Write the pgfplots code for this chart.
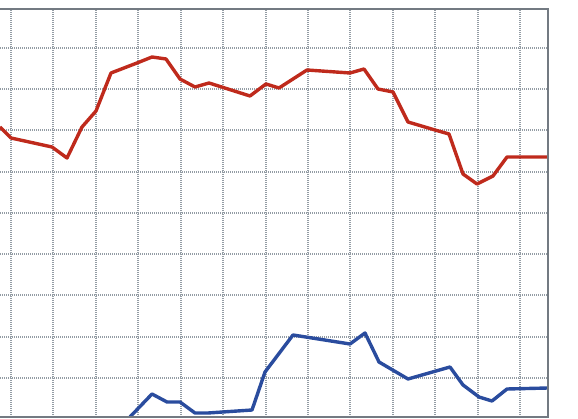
\documentclass[border=0pt]{standalone}
\usepackage{pgfplots}
\pgfplotsset{compat=1.18}
\definecolor{redline}{HTML}{BF2A1C}
\definecolor{blueline}{HTML}{2A4C9E}
\definecolor{gridc}{HTML}{939CA4}
\definecolor{borderc}{HTML}{737A82}
\begin{document}
\begin{tikzpicture}
\begin{axis}[
  name=ax,
  at={(0pt,2pt)}, anchor=south west,
  scale only axis,
  width=548pt, height=408pt,
  xmin=0, xmax=548, ymin=2, ymax=410,
  xtick={11,53.4,95.8,138.3,180.7,223.1,265.5,307.9,350.3,392.8,435.2,477.6,520},
  ytick={41,82.25,123.5,164.75,206,247.25,288.5,329.75,371},
  xticklabels={}, yticklabels={},
  major tick length=0pt,
  axis line style={draw=none},
  grid=major,
  major grid style={gridc, line width=2pt, dash pattern=on 1pt off 1pt},
  clip=true,
]
% y = 419 - pixel row
\addplot[redline, line width=3.4pt, line join=round] coordinates {
(0,292) (11,281) (52,272) (67,261) (82,292) (96,308) (111,346) (137,356)
(152,362) (166,360) (180,340) (195,332) (209,336) (250,323) (266,335)
(279,331) (307,349) (350,346) (364,350) (378,330) (393,327) (408,297)
(435,289) (449,285) (463,245) (477,235) (493,243) (507,262) (548,262)
};
\addplot[blueline, line width=3.4pt, line join=round] coordinates {
(128,0) (152,25) (167,17) (180,17) (195,6) (208,6) (252,9) (265,47)
(293,84) (350,75) (365,86) (379,57) (408,40) (450,52) (463,34)
(479,22) (492,18) (507,30) (548,31)
};
\end{axis}
\draw[borderc, line width=1.8pt] (ax.north west) -- (ax.north east) -- (ax.south east) -- (ax.south west);
\pgfresetboundingbox
\useasboundingbox (0,0) rectangle (578pt,419pt);
\end{tikzpicture}
\end{document}
